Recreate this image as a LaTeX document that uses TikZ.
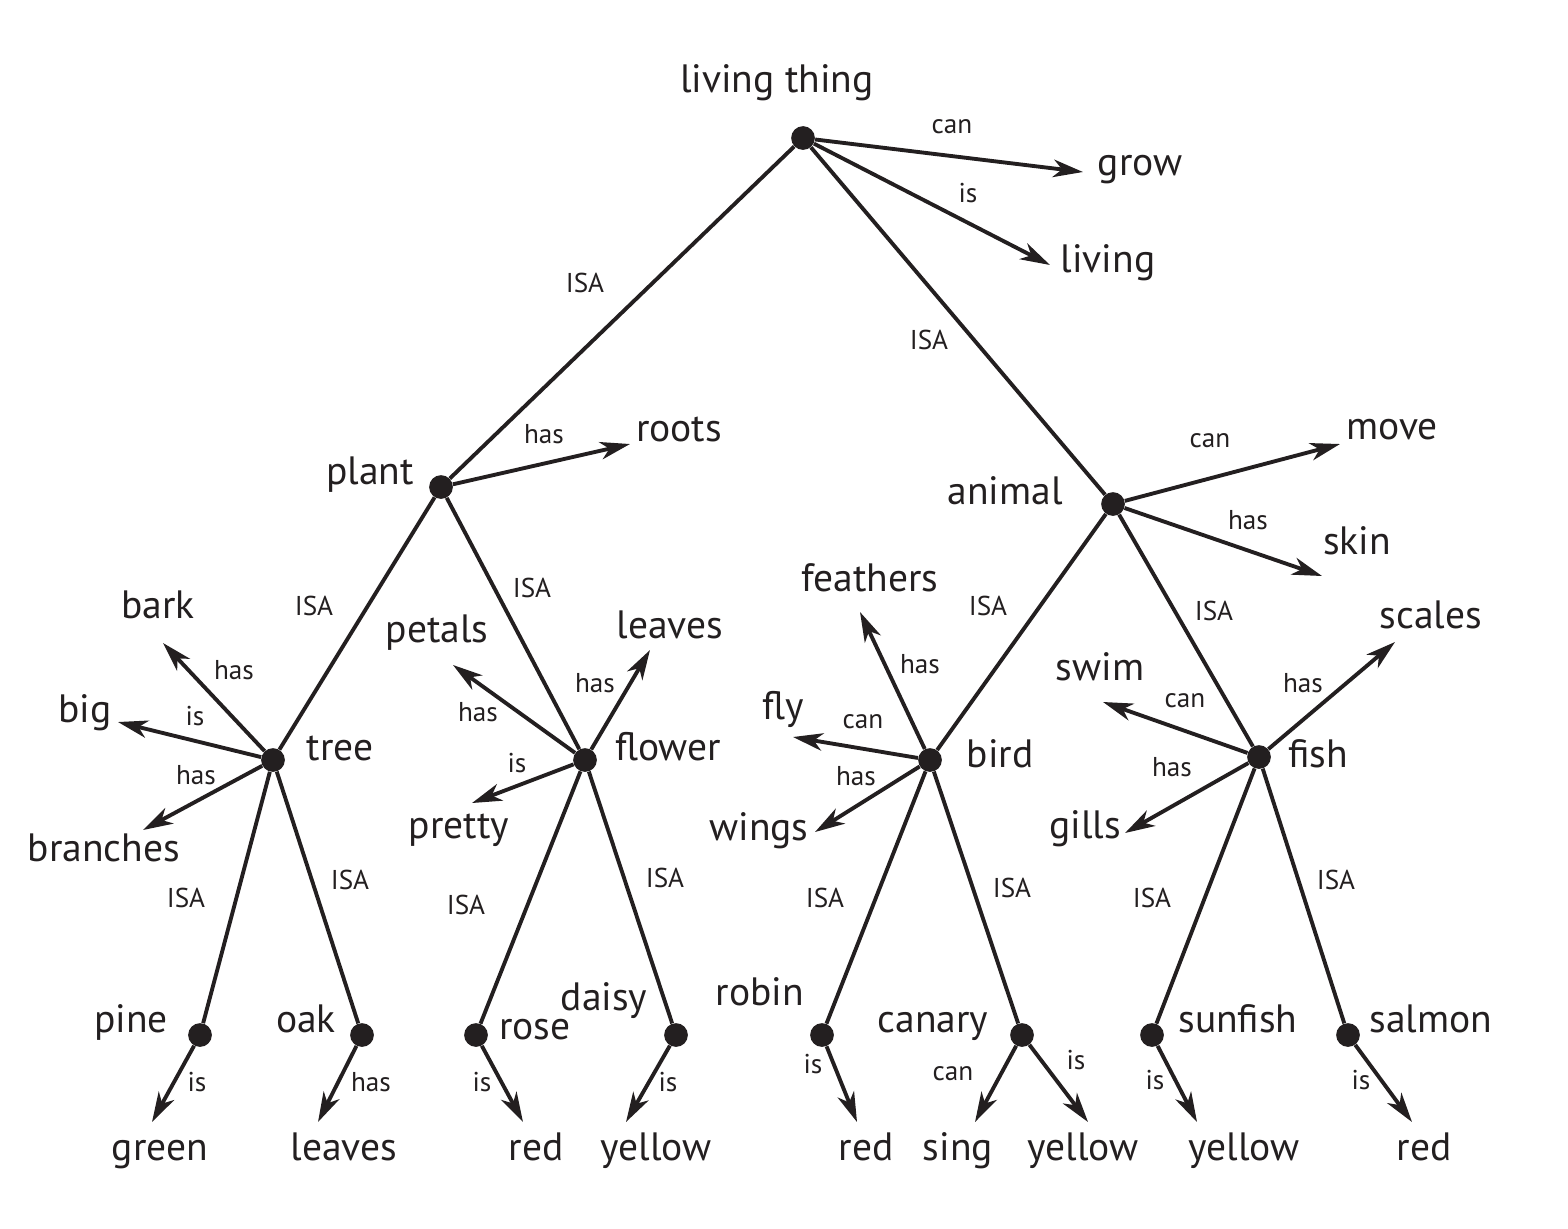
\documentclass[tikz,border=0pt]{standalone}
\usepackage{fontspec}
\setmainfont{PT Sans}
\usetikzlibrary{arrows.meta}
\definecolor{ink}{HTML}{231F20}
\newcommand{\FL}{\fontsize{22.5}{26}\selectfont}
\newcommand{\FS}{\fontsize{15.5}{18}\selectfont}

\begin{document}
\begin{tikzpicture}[x=0.02cm,y=-0.02cm]
\tikzstyle{dot}=[circle,fill=ink,inner sep=0pt,minimum size=13.5pt]
\tikzstyle{texto}=[ink,font=\FL,inner sep=0pt,text height=0.72em,text depth=0.22em,yshift=-4.5pt]
\tikzstyle{rel}=[ink,font=\FS,inner sep=0pt,text height=0.72em,text depth=0.22em,yshift=-2.8pt]
\tikzstyle{line}=[ink,line width=2.2pt]
\tikzstyle{arr}=[line,-{Stealth[length=17pt,width=10pt,inset=5pt]}]

\useasboundingbox (0,0) rectangle (1568,1228);

% concept dots
\node[dot] (living) at (803,138) {};
\node[dot] (plant) at (441,487) {};
\node[dot] (animal) at (1113,504) {};
\node[dot] (tree) at (273,760) {};
\node[dot] (flower) at (585,760) {};
\node[dot] (bird) at (930,760) {};
\node[dot] (fish) at (1259,757) {};
\node[dot] (pine) at (200,1035) {};
\node[dot] (oak) at (362,1035) {};
\node[dot] (rose) at (476,1035) {};
\node[dot] (daisy) at (676,1035) {};
\node[dot] (robin) at (822,1035) {};
\node[dot] (canary) at (1022,1035) {};
\node[dot] (sunfish) at (1152,1035) {};
\node[dot] (salmon) at (1348,1035) {};

% ISA links
\draw[line] (living) -- (plant);
\draw[line] (living) -- (animal);
\draw[line] (plant) -- (tree);
\draw[line] (plant) -- (flower);
\draw[line] (animal) -- (bird);
\draw[line] (animal) -- (fish);
\draw[line] (tree) -- (pine);
\draw[line] (tree) -- (oak);
\draw[line] (flower) -- (rose);
\draw[line] (flower) -- (daisy);
\draw[line] (bird) -- (robin);
\draw[line] (bird) -- (canary);
\draw[line] (fish) -- (sunfish);
\draw[line] (fish) -- (salmon);

\node[rel] (isa1) at (585,283) {ISA};
\node[rel] (isa2) at (929,340) {ISA};
\node[rel] (isa3) at (314,606) {ISA};
\node[rel] (isa4) at (532,588) {ISA};
\node[rel] (isa5) at (988,606) {ISA};
\node[rel] (isa6) at (1214,611) {ISA};
\node[rel] (isa7) at (186,898) {ISA};
\node[rel] (isa8) at (350,880) {ISA};
\node[rel] (isa9) at (466,905) {ISA};
\node[rel] (isa10) at (665,878) {ISA};
\node[rel] (isa11) at (825,898) {ISA};
\node[rel] (isa12) at (1012,888) {ISA};
\node[rel] (isa13) at (1152,898) {ISA};
\node[rel] (isa14) at (1336,880) {ISA};

% arrow ends
\coordinate (grow-e) at (1083,172);
\coordinate (living-e) at (1050,265);
\coordinate (roots-e) at (630,444);
\coordinate (move-e) at (1340,444);
\coordinate (skin-e) at (1322,576);
\coordinate (bark-e) at (163,643);
\coordinate (big-e) at (118,722);
\coordinate (branches-e) at (143,830);
\coordinate (petals-e) at (453,665);
\coordinate (leaves-e) at (650,650);
\coordinate (pretty-e) at (472,803);
\coordinate (feathers-e) at (860,612);
\coordinate (fly-e) at (793,737);
\coordinate (wings-e) at (815,832);
\coordinate (scales-e) at (1395,642);
\coordinate (swim-e) at (1103,702);
\coordinate (gills-e) at (1125,833);
\coordinate (green-e) at (152,1122);
\coordinate (oakleaves-e) at (318,1122);
\coordinate (rosered-e) at (523,1122);
\coordinate (daisyyellow-e) at (626,1122);
\coordinate (robinred-e) at (857,1122);
\coordinate (sing-e) at (975,1122);
\coordinate (canaryyellow-e) at (1088,1122);
\coordinate (sunfishyellow-e) at (1197,1122);
\coordinate (salmonred-e) at (1412,1122);

% property arrows
\draw[arr] (living) -- (grow-e);
\draw[arr] (living) -- (living-e);
\draw[arr] (plant) -- (roots-e);
\draw[arr] (animal) -- (move-e);
\draw[arr] (animal) -- (skin-e);
\draw[arr] (tree) -- (bark-e);
\draw[arr] (tree) -- (big-e);
\draw[arr] (tree) -- (branches-e);
\draw[arr] (flower) -- (petals-e);
\draw[arr] (flower) -- (leaves-e);
\draw[arr] (flower) -- (pretty-e);
\draw[arr] (bird) -- (feathers-e);
\draw[arr] (bird) -- (fly-e);
\draw[arr] (bird) -- (wings-e);
\draw[arr] (fish) -- (scales-e);
\draw[arr] (fish) -- (swim-e);
\draw[arr] (fish) -- (gills-e);
\draw[arr] (pine) -- (green-e);
\draw[arr] (oak) -- (oakleaves-e);
\draw[arr] (rose) -- (rosered-e);
\draw[arr] (daisy) -- (daisyyellow-e);
\draw[arr] (robin) -- (robinred-e);
\draw[arr] (canary) -- (sing-e);
\draw[arr] (canary) -- (canaryyellow-e);
\draw[arr] (sunfish) -- (sunfishyellow-e);
\draw[arr] (salmon) -- (salmonred-e);

% relation labels
\node[rel] (r-grow) at (952,124) {can};
\node[rel] (r-living) at (968,193) {is};
\node[rel] (r-roots) at (544,434) {has};
\node[rel] (r-move) at (1210,438) {can};
\node[rel] (r-skin) at (1248,520) {has};
\node[rel] (r-bark) at (234,670) {has};
\node[rel] (r-big) at (195,716) {is};
\node[rel] (r-branches) at (196,775) {has};
\node[rel] (r-petals) at (478,712) {has};
\node[rel] (r-leaves) at (595,683) {has};
\node[rel] (r-pretty) at (517,763) {is};
\node[rel] (r-feathers) at (920,664) {has};
\node[rel] (r-fly) at (863,719) {can};
\node[rel] (r-wings) at (856,776) {has};
\node[rel] (r-scales) at (1303,683) {has};
\node[rel] (r-swim) at (1185,698) {can};
\node[rel] (r-gills) at (1172,767) {has};
\node[rel] (r-green) at (197,1082) {is};
\node[rel] (r-oakleaves) at (371,1082) {has};
\node[rel] (r-rosered) at (482,1082) {is};
\node[rel] (r-daisyyellow) at (668,1082) {is};
\node[rel] (r-robinred) at (813,1064) {is};
\node[rel] (r-sing) at (953,1071) {can};
\node[rel] (r-canaryyellow) at (1076,1060) {is};
\node[rel] (r-sunfishyellow) at (1155,1080) {is};
\node[rel] (r-salmonred) at (1361,1080) {is};

% concept names
\node[texto] (t-living) at (777,80) {living thing};
\node[texto] (t-plant) at (370,472) {plant};
\node[texto] (t-animal) at (1005,492) {animal};
\node[texto] (t-tree) at (340,748) {tree};
\node[texto] (t-flower) at (668,748) {flower};
\node[texto] (t-bird) at (1000,755) {bird};
\node[texto] (t-fish) at (1318,755) {fish};
\node[texto] (t-pine) at (131,1020) {pine};
\node[texto] (t-oak) at (306,1020) {oak};
\node[texto] (t-rose) at (535,1027) {rose};
\node[texto] (t-daisy) at (604,998) {daisy};
\node[texto] (t-robin) at (760,993) {robin};
\node[texto] (t-canary) at (933,1020) {canary};
\node[texto] (t-sunfish) at (1238,1020) {sunfish};
\node[texto] (t-salmon) at (1431,1020) {salmon};

% property names
\node[texto] (t-grow) at (1140,163) {grow};
\node[texto] (t-livingp) at (1108,260) {living};
\node[texto] (t-roots) at (679,429) {roots};
\node[texto] (t-move) at (1392,427) {move};
\node[texto] (t-skin) at (1357,542) {skin};
\node[texto] (t-bark) at (158,606) {bark};
\node[texto] (t-big) at (85,710) {big};
\node[texto] (t-branches) at (104,849) {branches};
\node[texto] (t-petals) at (437,630) {petals};
\node[texto] (t-leaves) at (670,626) {leaves};
\node[texto] (t-pretty) at (459,826) {pretty};
\node[texto] (t-feathers) at (870,579) {feathers};
\node[texto] (t-fly) at (783,707) {fly};
\node[texto] (t-wings) at (759,828) {wings};
\node[texto] (t-scales) at (1431,616) {scales};
\node[texto] (t-swim) at (1100,668) {swim};
\node[texto] (t-gills) at (1085,826) {gills};
\node[texto] (t-green) at (160,1148) {green};
\node[texto] (t-oakleaves) at (344,1148) {leaves};
\node[texto] (t-rosered) at (536,1148) {red};
\node[texto] (t-daisyyellow) at (656,1148) {yellow};
\node[texto] (t-robinred) at (866,1148) {red};
\node[texto] (t-sing) at (958,1148) {sing};
\node[texto] (t-canaryyellow) at (1083,1148) {yellow};
\node[texto] (t-sunfishyellow) at (1244,1148) {yellow};
\node[texto] (t-salmonred) at (1424,1148) {red};
\end{tikzpicture}
\end{document}
